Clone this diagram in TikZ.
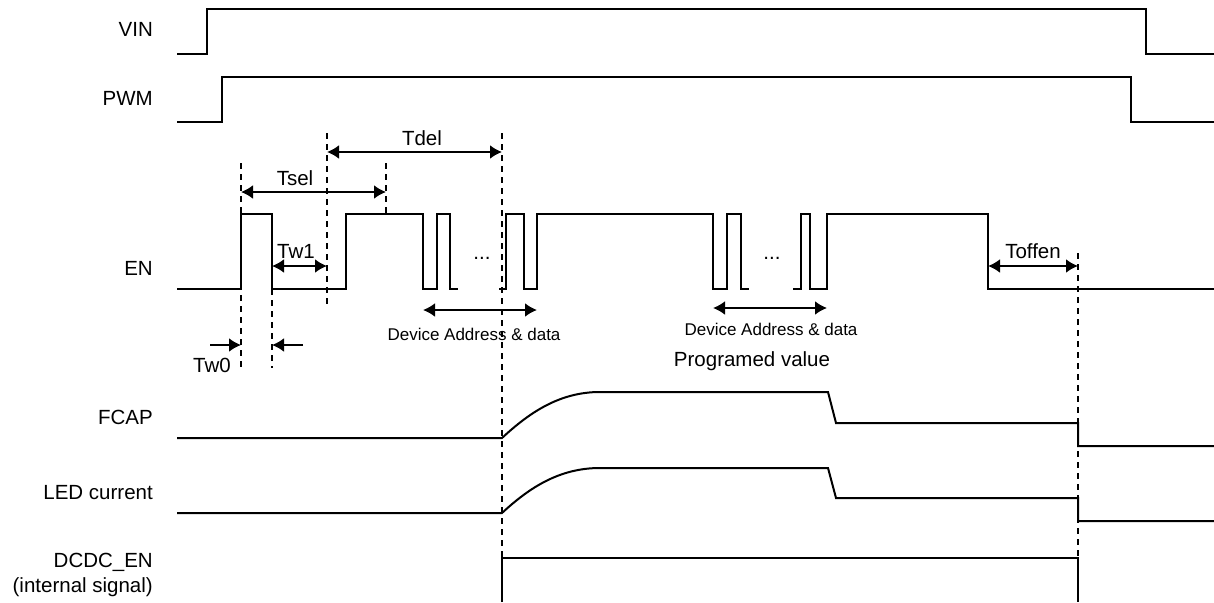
\documentclass[tikz,border=0pt]{standalone}
\usepackage{fontspec}
\setmainfont{Liberation Sans}
\usetikzlibrary{arrows.meta}
\begin{document}
\begin{tikzpicture}[x=1pt,y=-1pt,
  sig/.style={line width=2pt, line join=miter},
  guide/.style={line width=2pt, dash pattern=on 6pt off 5pt},
  dimline/.style={line width=2.2pt, {Latex[length=12pt,width=14pt]}-{Latex[length=12pt,width=14pt]}},
  oneway/.style={line width=2.2pt, -{Latex[length=12pt,width=14pt]}},
  lbl/.style={inner sep=0pt, font=\fontsize{20.5}{24}\selectfont},
  small/.style={inner sep=0pt, font=\fontsize{17}{20}\selectfont}]
\useasboundingbox (0,0) rectangle (1214,602);

% signal names
\node[lbl, anchor=base east] (nVIN) at (153,37) {VIN};
\node[lbl, anchor=base east] (nPWM) at (153,105) {PWM};
\node[lbl, anchor=base east] (nEN) at (153,275) {EN};
\node[lbl, anchor=base east] (nFCAP) at (153,424) {FCAP};
\node[lbl, anchor=base east] (nLED) at (153,499) {LED current};
\node[lbl, anchor=base east] (nDCDC) at (153,567) {DCDC\_EN};
\node[lbl, anchor=base east] (nInt) at (153,592) {(internal signal)};

% VIN and PWM
\draw[sig] (177,54) -- (207,54) -- (207,9) -- (1146,9) -- (1146,54) -- (1214,54);
\draw[sig] (177,122) -- (222,122) -- (222,77) -- (1131,77) -- (1131,122) -- (1214,122);

% EN
\draw[sig] (177,289) -- (241,289) -- (241,214) -- (272,214) -- (272,289) -- (346,289)
  -- (346,214) -- (423,214) -- (423,289) -- (437,289) -- (437,214) -- (450,214)
  -- (450,289) -- (458,289);
\draw[sig] (499,289) -- (506,289) -- (506,214) -- (524,214) -- (524,289) -- (537,289)
  -- (537,214) -- (713,214) -- (713,289) -- (727,289) -- (727,214) -- (741,214)
  -- (741,289) -- (749,289);
\draw[sig] (793,289) -- (801,289) -- (801,214) -- (810,214) -- (810,289) -- (827,289)
  -- (827,214) -- (988,214) -- (988,289) -- (1214,289);
\node[lbl, anchor=base] (dots1) at (482,259) {...};
\node[lbl, anchor=base] (dots2) at (772,259) {...};

% FCAP
\draw[sig] (177,438) -- (502,438) .. controls (530,412) and (560,392) .. (600,392)
  -- (828,392) -- (836,423) -- (1078,423) -- (1078,446) -- (1214,446);
% LED current
\draw[sig] (177,513) -- (502,513) .. controls (530,487) and (560,468) .. (600,468)
  -- (828,468) -- (836,498) -- (1078,498) -- (1078,521) -- (1214,521);
% DCDC_EN
\draw[sig] (502,602) -- (502,558) -- (1078,558) -- (1078,602);

% guide lines
\coordinate (g1t) at (241,163); \coordinate (g1b) at (241,368);
\coordinate (g2t) at (272,289); \coordinate (g2b) at (272,368);
\coordinate (g3t) at (327,133); \coordinate (g3b) at (327,308);
\coordinate (g4t) at (386,163); \coordinate (g4b) at (386,214);
\coordinate (g5t) at (502,133); \coordinate (g5b) at (502,558);
\coordinate (g6t) at (1078,253); \coordinate (g6b) at (1078,558);
\draw[guide] (g1t) -- (g1b);
\draw[guide] (g2t) -- (g2b);
\draw[guide] (g3t) -- (g3b);
\draw[guide] (g4t) -- (g4b);
\draw[guide] (g5t) -- (g5b);
\draw[guide] (g6t) -- (g6b);

% dimension arrows
\coordinate (tdA) at (327,152); \coordinate (tdB) at (502,152);
\draw[dimline] (tdA) -- (tdB);
\node[lbl, anchor=base] (lTdel) at (422,145) {Tdel};

\coordinate (tsA) at (241,192); \coordinate (tsB) at (386,192);
\draw[dimline] (tsA) -- (tsB);
\node[lbl, anchor=base] (lTsel) at (295,185.5) {Tsel};

\coordinate (tw1A) at (272,266); \coordinate (tw1B) at (327,266);
\draw[dimline] (tw1A) -- (tw1B);
\node[lbl, anchor=base] (lTw1) at (296,258) {Tw1};

\coordinate (daA) at (423,310); \coordinate (daB) at (537,310);
\draw[dimline] (daA) -- (daB);
\node[small, anchor=base] (lDA1) at (474,340.5) {Device Address \& data};

\coordinate (dbA) at (713,308); \coordinate (dbB) at (827,308);
\draw[dimline] (dbA) -- (dbB);
\node[small, anchor=base] (lDA2) at (771,335.5) {Device Address \& data};
\node[lbl, anchor=base] (lProg) at (752,366) {Programed value};

\coordinate (toA) at (988,266); \coordinate (toB) at (1078,266);
\draw[dimline] (toA) -- (toB);
\node[lbl, anchor=base] (lToff) at (1033,258) {Toffen};

\coordinate (w0a) at (210,345); \coordinate (w0b) at (241,345);
\coordinate (w0c) at (303,345); \coordinate (w0d) at (272,345);
\draw[oneway] (w0a) -- (w0b);
\draw[oneway] (w0c) -- (w0d);
\node[lbl, anchor=base] (lTw0) at (212,372.5) {Tw0};
\end{tikzpicture}
\end{document}
